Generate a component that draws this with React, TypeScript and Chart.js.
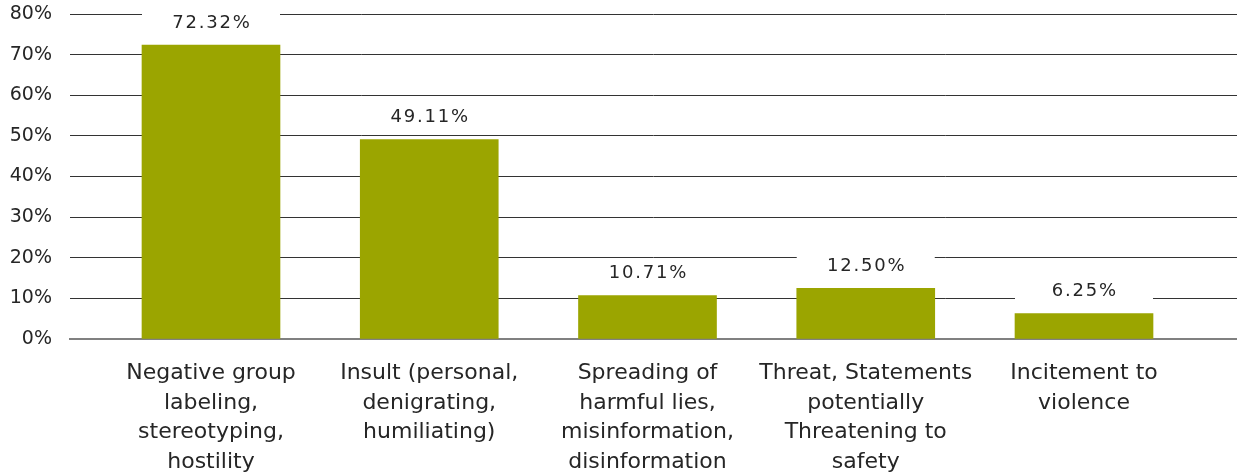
import React, { useEffect, useRef } from "react";
import { Chart, registerables } from "chart.js";

Chart.register(...registerables);

const categories: string[][] = [
  ["Negative group", "labeling,", "stereotyping,", "hostility"],
  ["Insult (personal,", "denigrating,", "humiliating)"],
  ["Spreading of", "harmful lies,", "misinformation,", "disinformation"],
  ["Threat, Statements", "potentially", "Threatening to", "safety"],
  ["Incitement to", "violence"],
];
const values: number[] = [72.32, 49.11, 10.71, 12.5, 6.25];
const yMin = 0;
const yMax = 80;
const yStep = 10;

const BAR_COLOR = "#9BA500";
const TEXT_COLOR = "#262626";
const FONT = '"DejaVu Sans", sans-serif';

const barLabels = {
  id: "barLabels",
  afterDatasetsDraw(chart: any) {
    const ctx = chart.ctx as CanvasRenderingContext2D;
    const meta = chart.getDatasetMeta(0);
    ctx.save();
    ctx.font = `18px ${FONT}`;
    (ctx as any).letterSpacing = "1.8px";
    ctx.textAlign = "center";
    ctx.textBaseline = "middle";
    meta.data.forEach((bar: any, i: number) => {
      const { x, y, width } = bar.getProps(["x", "y", "width"], true);
      const cy = y - 22;
      ctx.fillStyle = "#ffffff";
      ctx.fillRect(x - width / 2, cy - 12, width, 24);
      ctx.fillStyle = TEXT_COLOR;
      ctx.fillText(values[i].toFixed(2) + "%", x + 0.9, cy);
    });
    ctx.restore();
  },
};

export default function App() {
  const ref = useRef<HTMLCanvasElement | null>(null);

  useEffect(() => {
    if (!ref.current) return;
    const chart = new Chart(ref.current, {
      type: "bar",
      data: {
        datasets: [
          {
            data: values.map((v, i) => ({ x: i, y: v })),
            backgroundColor: BAR_COLOR,
            borderWidth: 0,
            barThickness: 138,
          },
        ],
      },
      options: {
        animation: false,
        responsive: false,
        devicePixelRatio: 1,
        layout: { padding: { top: 14, left: 0, right: 0, bottom: 0 } },
        plugins: {
          legend: { display: false },
          tooltip: { enabled: false },
        },
        scales: {
          x: {
            type: "linear",
            position: "bottom",
            min: -0.646,
            max: 4.701,
            offset: false,
            z: 1,
            afterBuildTicks: (s: any) => {
              s.ticks = categories.map((_, i) => ({ value: i }));
            },
            afterFit: (s: any) => {
              s.height = 133;
            },
            grid: { display: false, offset: false },
            border: { display: true, color: "#808080", width: 2 },
            ticks: {
              autoSkip: false,
              maxRotation: 0,
              minRotation: 0,
              padding: 12,
              color: TEXT_COLOR,
              font: { family: FONT, size: 22, lineHeight: "29.5px" as any },
              callback: (v: any) => categories[Math.round(Number(v))] ?? "",
            },
          },
          y: {
            min: yMin,
            max: yMax,
            afterFit: (s: any) => {
              s.width = 70;
              s.paddingTop = 0;
              s.paddingBottom = 0;
            },
            grid: { color: "#333333", lineWidth: 1, drawTicks: false },
            border: { display: false },
            ticks: {
              stepSize: yStep,
              padding: 18,
              color: TEXT_COLOR,
              font: { family: FONT, size: 19 },
              callback: (v: any) => `${v}%`,
            },
          },
        },
      },
      plugins: [barLabels],
    });
    return () => chart.destroy();
  }, []);

  return (
    <div style={{ position: "fixed", left: 0, top: 0, width: 1237, height: 472, background: "#fff" }}>
      <canvas ref={ref} width={1237} height={472} />
    </div>
  );
}
